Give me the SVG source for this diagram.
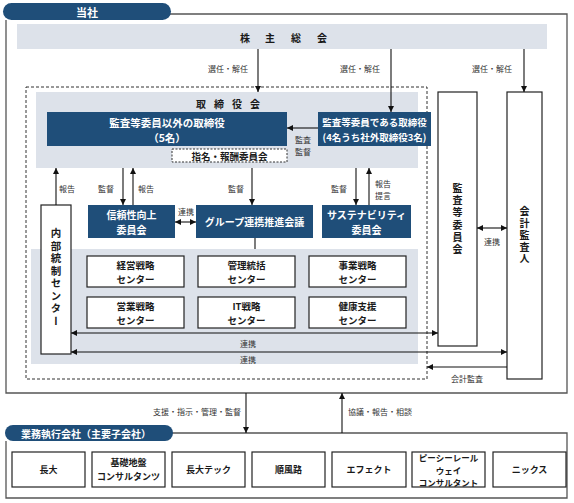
<svg xmlns="http://www.w3.org/2000/svg" width="574" height="503" viewBox="0 0 574 503">
<defs>
<marker id="ah" viewBox="0 0 10 10" refX="10" refY="5" markerWidth="6" markerHeight="6" orient="auto-start-reverse" markerUnits="userSpaceOnUse"><path d="M0,0 L10,5 L0,10 z" fill="#111"/></marker>
<style>
text{font-family:"Noto Sans CJK JP","Noto Sans",sans-serif;}
.c{text-anchor:middle;dominant-baseline:central;}
.w{fill:#fff;font-weight:bold;}
.b{fill:#1a1a1a;font-weight:bold;}
.l{fill:#333;font-size:8px;}
.dk{fill:#1f4e79;}
.gr{fill:#dde2ea;}
.bx{fill:#fff;stroke:#222;stroke-width:1.2;}
.fr{fill:none;stroke:#555;stroke-width:1.3;}
.ln{stroke:#111;stroke-width:1.1;fill:none;}
.v{writing-mode:vertical-rl;text-anchor:middle;font-weight:bold;fill:#1a1a1a;}
</style>
</defs>
<g id="frame-company">
<path class="fr" d="M170,14 H567 V393 H6 V20"/>
<rect x="3" y="3" width="168" height="17" rx="8.5" class="dk"/>
<text x="87" y="12" class="c w" font-size="11">当社</text>
</g>
<g id="shareholders">
<rect x="17" y="24" width="530" height="25" class="gr"/>
<text y="37" class="c b" font-size="10"><tspan x="245">株</tspan><tspan x="270">主</tspan><tspan x="296">総</tspan><tspan x="322">会</tspan></text>
</g>
<g id="board-area">
<rect x="26" y="87" width="401" height="292" fill="none" stroke="#333" stroke-width="1" stroke-dasharray="3,2"/>
<rect x="36" y="92" width="382" height="76" class="gr"/>
<text y="103" class="c b" font-size="10"><tspan x="201">取</tspan><tspan x="219">締</tspan><tspan x="237">役</tspan><tspan x="255">会</tspan></text>
</g>
<g id="directors-other">
<rect x="47" y="112" width="240" height="34" class="dk"/>
<text x="167" y="122" class="c w" font-size="10.5">監査等委員以外の取締役</text>
<text x="167" y="137" class="c w" font-size="10.5">（5名）</text>
</g>
<g id="directors-audit">
<rect x="318" y="112" width="113" height="34" class="dk"/>
<text x="374.5" y="122" class="c w" font-size="9.5">監査等委員である取締役</text>
<text x="374.5" y="137" class="c w" font-size="9.5">(4名うち社外取締役3名)</text>
</g>
<g id="nomination">
<rect x="172" y="149" width="115" height="13" fill="#fff" stroke="#333" stroke-width="1" stroke-dasharray="2,1.5"/>
<text x="229.5" y="155.5" class="c b" font-size="9.5">指名・報酬委員会</text>
</g>
<g id="lower-band">
<rect x="31" y="249" width="387" height="115" class="gr"/>
</g>
<g id="internal-control">
<rect x="41" y="205" width="30" height="149" class="bx"/>
<text x="56" y="278" class="v" font-size="10.5" letter-spacing="2">内部統制センター</text>
</g>
<g id="reliability">
<rect x="88" y="205" width="87" height="33" class="dk"/>
<text x="131.5" y="214.5" class="c w" font-size="10">信頼性向上</text>
<text x="131.5" y="229" class="c w" font-size="10">委員会</text>
</g>
<g id="group-council">
<rect x="196" y="205" width="117" height="33" class="dk"/>
<text x="254.5" y="221.5" class="c w" font-size="10">グループ連携推進会議</text>
</g>
<g id="sustainability">
<rect x="322" y="205" width="89" height="33" class="dk"/>
<text x="366.5" y="214.5" class="c w" font-size="10">サステナビリティ</text>
<text x="366.5" y="229" class="c w" font-size="10">委員会</text>
</g>
<g id="center-management">
<rect x="87" y="256" width="97" height="31" class="bx"/>
<text x="135.5" y="264.5" class="c b" font-size="9.5">経営戦略</text>
<text x="135.5" y="278.5" class="c b" font-size="9.5">センター</text>
</g>
<g id="center-admin">
<rect x="198" y="256" width="97" height="31" class="bx"/>
<text x="246.5" y="264.5" class="c b" font-size="9.5">管理統括</text>
<text x="246.5" y="278.5" class="c b" font-size="9.5">センター</text>
</g>
<g id="center-business">
<rect x="309" y="256" width="97" height="31" class="bx"/>
<text x="357.5" y="264.5" class="c b" font-size="9.5">事業戦略</text>
<text x="357.5" y="278.5" class="c b" font-size="9.5">センター</text>
</g>
<g id="center-sales">
<rect x="87" y="297" width="97" height="31" class="bx"/>
<text x="135.5" y="305.5" class="c b" font-size="9.5">営業戦略</text>
<text x="135.5" y="319.5" class="c b" font-size="9.5">センター</text>
</g>
<g id="center-it">
<rect x="198" y="297" width="97" height="31" class="bx"/>
<text x="246.5" y="305.5" class="c b" font-size="9.5">IT戦略</text>
<text x="246.5" y="319.5" class="c b" font-size="9.5">センター</text>
</g>
<g id="center-health">
<rect x="309" y="297" width="97" height="31" class="bx"/>
<text x="357.5" y="305.5" class="c b" font-size="9.5">健康支援</text>
<text x="357.5" y="319.5" class="c b" font-size="9.5">センター</text>
</g>
<g id="audit-committee">
<rect x="438" y="92" width="39" height="254" class="bx"/>
<text x="457.5" y="220" class="v" font-size="10" letter-spacing="2.3">監査等委員会</text>
</g>
<g id="accounting-auditor">
<rect x="507" y="92" width="35" height="287" class="bx"/>
<text x="524.5" y="236" class="v" font-size="10" letter-spacing="1.8">会計監査人</text>
</g>
<g id="frame-subsidiaries">
<path class="fr" d="M172,433 H567 V498 H6 V441"/>
<rect x="5" y="425" width="168" height="16" rx="8" class="dk"/>
<text x="86" y="433" class="c w" font-size="10">業務執行会社（主要子会社）</text>
</g>
<g id="sub-chodai"><rect x="12" y="452" width="73" height="35" class="bx"/><text x="48.5" y="469.5" class="c b" font-size="9">長大</text></g>
<g id="sub-kiso"><rect x="92" y="452" width="73" height="35" class="bx"/><text x="128.5" y="462.5" class="c b" font-size="9">基礎地盤</text><text x="128.5" y="476" class="c b" font-size="9">コンサルタンツ</text></g>
<g id="sub-tech"><rect x="172" y="452" width="73" height="35" class="bx"/><text x="208.5" y="469.5" class="c b" font-size="9">長大テック</text></g>
<g id="sub-junpuro"><rect x="252" y="452" width="73" height="35" class="bx"/><text x="288.5" y="469.5" class="c b" font-size="9">順風路</text></g>
<g id="sub-effect"><rect x="332" y="452" width="74" height="35" class="bx"/><text x="369" y="469.5" class="c b" font-size="9">エフェクト</text></g>
<g id="sub-pcrail"><rect x="412" y="452" width="73" height="35" class="bx"/><text x="448.5" y="457" class="c b" font-size="8.5">ピーシーレール</text><text x="448.5" y="469.5" class="c b" font-size="8.5">ウェイ</text><text x="448.5" y="482" class="c b" font-size="8.5">コンサルタント</text></g>
<g id="sub-nix"><rect x="493" y="452" width="73" height="35" class="bx"/><text x="529.5" y="469.5" class="c b" font-size="9">ニックス</text></g>
<g id="connectors">
<line class="ln" x1="258" y1="49" x2="258" y2="92" marker-end="url(#ah)"/>
<line class="ln" x1="391" y1="49" x2="391" y2="112" marker-end="url(#ah)"/>
<line class="ln" x1="524" y1="49" x2="524" y2="92" marker-end="url(#ah)"/>
<text x="228" y="68" class="c l">選任・解任</text>
<text x="360" y="68" class="c l">選任・解任</text>
<text x="492" y="68" class="c l">選任・解任</text>
<line class="ln" x1="318" y1="128" x2="287" y2="128" marker-end="url(#ah)"/>
<text x="303" y="139" class="c l">監査</text>
<text x="303" y="151" class="c l">監督</text>
<line class="ln" x1="56" y1="205" x2="56" y2="168" marker-end="url(#ah)"/>
<text x="67" y="188" class="c l">報告</text>
<line class="ln" x1="123" y1="168" x2="123" y2="205" marker-end="url(#ah)"/>
<text x="106" y="188" class="c l">監督</text>
<line class="ln" x1="133" y1="205" x2="133" y2="168" marker-end="url(#ah)"/>
<text x="146" y="188" class="c l">報告</text>
<line class="ln" x1="175" y1="222" x2="196" y2="222" marker-start="url(#ah)" marker-end="url(#ah)"/>
<text x="186" y="211" class="c l">連携</text>
<line class="ln" x1="252" y1="168" x2="252" y2="205" marker-end="url(#ah)"/>
<text x="236" y="188" class="c l">監督</text>
<line class="ln" x1="255" y1="238" x2="255" y2="249"/>
<line class="ln" x1="356" y1="168" x2="356" y2="205" marker-end="url(#ah)"/>
<text x="339" y="188" class="c l">監督</text>
<line class="ln" x1="369" y1="205" x2="369" y2="168" marker-end="url(#ah)"/>
<text x="383" y="183" class="c l">報告</text>
<text x="383" y="195" class="c l">提言</text>
<line class="ln" x1="71" y1="333" x2="438" y2="333" marker-start="url(#ah)" marker-end="url(#ah)"/>
<text x="248" y="343" class="c l">連携</text>
<line class="ln" x1="71" y1="352" x2="507" y2="352" marker-start="url(#ah)" marker-end="url(#ah)"/>
<text x="248" y="359.5" class="c l">連携</text>
<line class="ln" x1="477" y1="228" x2="507" y2="228" marker-start="url(#ah)" marker-end="url(#ah)"/>
<text x="492" y="241" class="c l">連携</text>
<line class="ln" x1="507" y1="367" x2="427" y2="367" marker-end="url(#ah)"/>
<text x="467" y="378" class="c l">会計監査</text>
<line class="ln" x1="246" y1="393" x2="246" y2="433" marker-end="url(#ah)"/>
<text x="241" y="411" class="l" text-anchor="end" dominant-baseline="central">支援・指示・管理・監督</text>
<line class="ln" x1="342" y1="433" x2="342" y2="393" marker-end="url(#ah)"/>
<text x="348" y="411" class="l" dominant-baseline="central">協議・報告・相談</text>
</g>
</svg>
